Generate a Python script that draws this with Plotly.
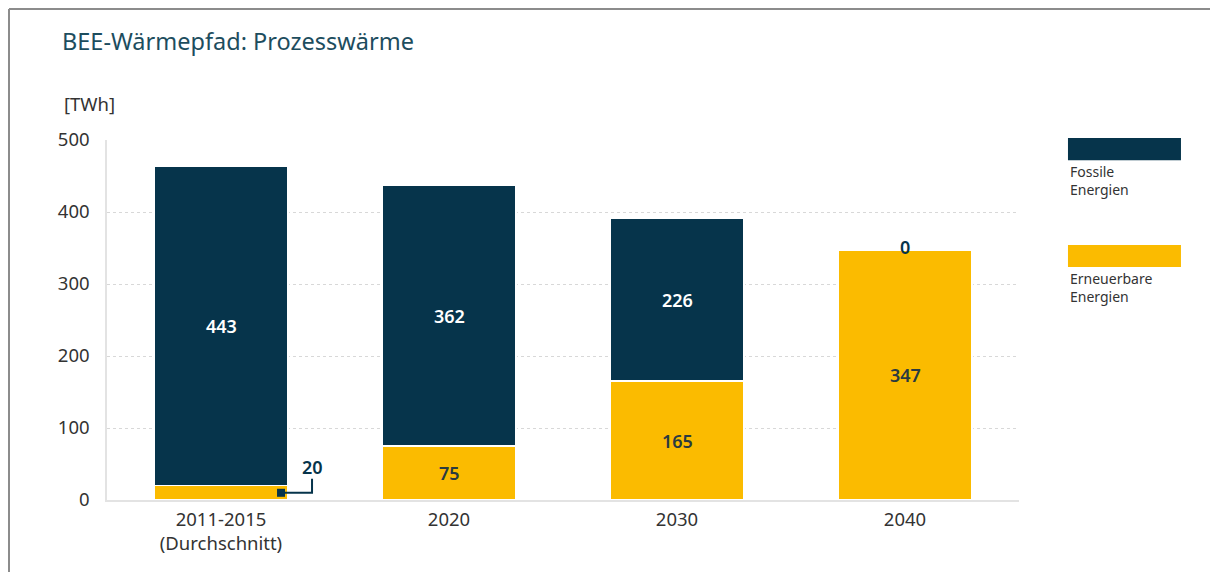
import plotly.graph_objects as go

categories = ["2011-2015<br>(Durchschnitt)", "2020", "2030", "2040"]
erneuerbare = [20, 75, 165, 347]
fossile = [443, 362, 226, 0]
series_names = ["Fossile<br>Energien", "Erneuerbare<br>Energien"]
y_ticks = [0, 100, 200, 300, 400, 500]

NAVY = "#06344b"
YELLOW = "#fbbb00"
LABEL_DARK = "#2a3a40"
FONT = "Noto Sans"

fig = go.Figure()
fig.add_trace(go.Bar(x=categories, y=erneuerbare, name="Erneuerbare Energien",
                     marker=dict(color=YELLOW, line=dict(color="white", width=1.5)),
                     width=0.588, hoverinfo="y"))
fig.add_trace(go.Bar(x=categories, y=fossile, name="Fossile Energien",
                     marker=dict(color=NAVY, line=dict(color="white", width=1.5)),
                     width=0.588, hoverinfo="y"))

annotations = []
shapes = []
half = 0.294
LBL = 18
for i, (e, f) in enumerate(zip(erneuerbare, fossile)):
    if e >= 40:
        annotations.append(dict(x=i, y=e / 2, text=str(e), showarrow=False,
                                font=dict(family=FONT, size=LBL, color=LABEL_DARK, weight=600)))
    else:
        shapes.append(dict(type="rect", xref="x", yref="y", xsizemode="pixel", ysizemode="pixel",
                           xanchor=i + half, yanchor=e / 2, x0=-11, x1=-3, y0=-4, y1=4,
                           fillcolor=NAVY, line=dict(width=0)))
        shapes.append(dict(type="path", xref="x", yref="y", xsizemode="pixel", ysizemode="pixel",
                           xanchor=i + half, yanchor=e / 2, path="M-4,0 H24 V14",
                           line=dict(color=NAVY, width=2)))
        annotations.append(dict(x=i + half, y=e / 2, text=str(e), showarrow=False,
                                xshift=24, yshift=26,
                                font=dict(family=FONT, size=LBL, color=NAVY, weight=600)))
    if f > 0:
        annotations.append(dict(x=i, y=e + f / 2, text=str(f), showarrow=False,
                                font=dict(family=FONT, size=LBL, color="white", weight=600)))
    else:
        annotations.append(dict(x=i, y=e + f, text=str(f), showarrow=False, yshift=3,
                                font=dict(family=FONT, size=LBL, color=NAVY, weight=600)))

annotations.append(dict(xref="paper", yref="paper", x=-0.0493, y=1.1, xanchor="left", yanchor="middle",
                        text="[TWh]", showarrow=False, font=dict(family=FONT, size=18.5, color="#333333")))

legend_items = [(NAVY, series_names[0], 1.0056, 0.944),
                (YELLOW, series_names[1], 0.7083, 0.6472)]
for color, name, y1, y0 in legend_items:
    shapes.append(dict(type="rect", xref="paper", yref="paper", x0=1.0537, x1=1.1776, y0=y0, y1=y1,
                       fillcolor=color, line=dict(width=0)))
    annotations.append(dict(xref="paper", yref="paper", x=1.0537, y=y0, xanchor="left", yanchor="top",
                            text=name, showarrow=False, align="left",
                            font=dict(family=FONT, size=14, color="#333333")))

# frame
fx = (1 - 99) / 912
fy = (492 - 1) / 360
shapes.append(dict(type="line", xref="paper", yref="paper", x0=fx, x1=fx, y0=fy, y1=-0.3,
                   line=dict(color="#8c8c8c", width=2)))
shapes.append(dict(type="line", xref="paper", yref="paper", x0=fx, x1=1.25, y0=fy, y1=fy,
                   line=dict(color="#8c8c8c", width=2)))

fig.update_layout(
    barmode="stack",
    width=1218, height=572,
    margin=dict(l=99, r=207, t=132, b=80),
    paper_bgcolor="white", plot_bgcolor="white",
    showlegend=False,
    title=dict(text="BEE-Wärmepfad: Prozesswärme", x=54 / 1218, xanchor="left", xref="container",
               y=1 - 34 / 572, yanchor="middle", yref="container",
               font=dict(family=FONT, size=23.5, color="#1d4d5e")),
    font=dict(family=FONT, color="#333333"),
    annotations=annotations,
    shapes=shapes,
)
fig.update_yaxes(range=[0, 500], tickvals=y_ticks, showgrid=True, gridcolor="#d8d8d8", griddash="dot",
                 gridwidth=1, showline=True, linecolor="#e3e3e3", linewidth=1.5, zeroline=False,
                 tickfont=dict(family=FONT, size=18.5, color="#333333"), ticklabelstandoff=12)
fig.update_xaxes(showline=True, linecolor="#e3e3e3", linewidth=1.5, showgrid=False,
                 tickfont=dict(family=FONT, size=18.5, color="#333333"), ticklabelstandoff=2)

fig.write_html("out.html")
